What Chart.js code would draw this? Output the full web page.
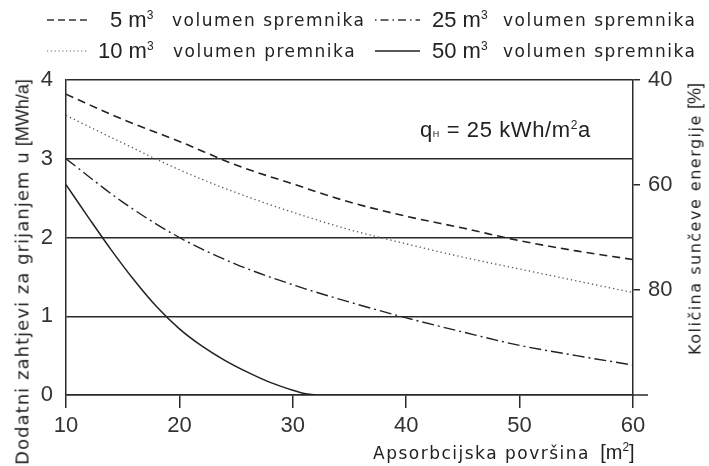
<!DOCTYPE html>
<html>
<head>
<meta charset="utf-8">
<script src="https://cdn.jsdelivr.net/npm/chart.js@4/dist/chart.umd.min.js"></script>
<style>
  body { margin: 0; background: #fff; }
  #wrap { position: relative; width: 709px; height: 466px; font-family: "DejaVu Sans", sans-serif; color: #222; }
  canvas { position: absolute; left: 0; top: 0; }
  .t { position: absolute; white-space: nowrap; line-height: 24px; }
  .big { font-family: "Liberation Sans", Arial, sans-serif; font-size: 22px; letter-spacing: 0; }
  .small { font-size: 17px; letter-spacing: 1.5px; }
  .rot { position: absolute; white-space: nowrap; line-height: 24px; transform: translate(-50%, -50%) rotate(-90deg); }
  sup { font-size: 12px; vertical-align: 8px; line-height: 0; }
</style>
</head>
<body>
<div id="wrap">
  <canvas id="c" width="709" height="466"></canvas>

  <svg class="t" style="left:47px;top:14px" width="42" height="12"><line x1="0" y1="6" x2="41" y2="6" stroke="#333" stroke-width="1.5" stroke-dasharray="7,4"/></svg>
  <div class="t big" style="left:110px;top:8px">5 m<sup>3</sup></div>
  <div class="t small" style="left:172px;top:8px">volumen spremnika</div>
  <svg class="t" style="left:375px;top:14px" width="46" height="12"><line x1="0" y1="6" x2="45" y2="6" stroke="#333" stroke-width="1.5" stroke-dasharray="1.5,4,8,4"/></svg>
  <div class="t big" style="left:432px;top:8px">25 m<sup>3</sup></div>
  <div class="t small" style="left:503px;top:8px">volumen spremnika</div>

  <svg class="t" style="left:47px;top:45px" width="42" height="12"><line x1="0" y1="6" x2="41" y2="6" stroke="#666" stroke-width="1.2" stroke-dasharray="1.2,2.6"/></svg>
  <div class="t big" style="left:98px;top:39px">10 m<sup>3</sup></div>
  <div class="t small" style="left:173px;top:39px">volumen premnika</div>
  <svg class="t" style="left:375px;top:45px" width="46" height="12"><line x1="0" y1="6" x2="45" y2="6" stroke="#222" stroke-width="1.6"/></svg>
  <div class="t big" style="left:432px;top:39px">50 m<sup>3</sup></div>
  <div class="t small" style="left:503px;top:39px">volumen spremnika</div>

  <div class="t" style="left:420px;top:118px;font-family:'Liberation Sans',Arial,sans-serif;font-size:22px;letter-spacing:0.6px">q<span style="font-size:9px">H</span> = 25 kWh/m<sup>2</sup>a</div>

  <div class="t" style="left:373px;top:440px"><span class="small">Apsorbcijska površina</span>&nbsp;&nbsp;<span class="big" style="font-size:20px">[m<sup>2</sup>]</span></div>

  <div class="rot" style="left:23px;top:272px"><span class="small" style="font-size:18px;letter-spacing:1.05px">Dodatni zahtjevi za grijanjem u</span> <span class="big" style="font-size:18px">[MWh/a]</span></div>
  <div class="rot" style="left:695px;top:219px"><span class="small" style="font-size:16px;letter-spacing:1.5px">Količina sunčeve energije</span> <span class="big" style="font-size:18px">[%]</span></div>
</div>

<script>
// absorber area [m2] and extra heating demand [MWh/a] per tank volume
const area5 = [10, 15, 20, 25, 30, 35, 40, 45, 50, 55, 60];
const demand5 = [3.82, 3.5, 3.22, 2.92, 2.68, 2.45, 2.27, 2.12, 1.96, 1.83, 1.72];

const area10 = [10, 15, 20, 25, 30, 35, 40, 45, 50, 55, 60];
const demand10 = [3.55, 3.2, 2.86, 2.57, 2.32, 2.1, 1.92, 1.75, 1.6, 1.45, 1.3];

const area25 = [10, 15, 20, 25, 30, 35, 40, 45, 50, 55, 60];
const demand25 = [3.0, 2.45, 2.0, 1.66, 1.4, 1.18, 0.98, 0.8, 0.63, 0.5, 0.38];

const area50 = [10, 12, 14, 16, 18, 20, 22, 24, 26, 28, 30, 31, 32];
const demand50 = [2.67, 2.25, 1.84, 1.46, 1.12, 0.84, 0.62, 0.44, 0.29, 0.16, 0.06, 0.02, 0.0];

const xTicks = [10, 20, 30, 40, 50, 60];
const leftTicks = [0, 1, 2, 3, 4];
const rightTicks = [40, 60, 80];

const ink = "#2a2a2a";
const tickFont = { family: "Liberation Sans", size: 22 };

function pts(xs, ys) {
  return xs.map((x, i) => ({ x: x, y: ys[i] }));
}

const line = (label, xs, ys, dash, color, width) => ({
  label: label,
  data: pts(xs, ys),
  borderColor: color,
  borderWidth: width,
  borderDash: dash,
  pointRadius: 0,
  fill: false,
  cubicInterpolationMode: "monotone",
  yAxisID: "y",
});

// extends the base line a bit past the right axis
const axisExtra = {
  id: "axisExtra",
  afterDraw(chart) {
    const { ctx, chartArea } = chart;
    ctx.save();
    ctx.strokeStyle = ink;
    ctx.lineWidth = 1.5;
    ctx.beginPath();
    ctx.moveTo(chartArea.right, chartArea.bottom);
    ctx.lineTo(chartArea.right + 15, chartArea.bottom);
    ctx.stroke();
    ctx.restore();
  },
};

new Chart(document.getElementById("c"), {
  type: "line",
  data: {
    datasets: [
      line("5 m³", area5, demand5, [8, 5], "#222", 1.6),
      line("10 m³", area10, demand10, [1.3, 3], "#555", 1.3),
      line("25 m³", area25, demand25, [12, 4, 2, 4], "#222", 1.4),
      line("50 m³", area50, demand50, [], "#222", 1.5),
    ],
  },
  options: {
    responsive: false,
    animation: false,
    layout: { padding: { top: 80, left: 0, right: 0, bottom: 0 } },
    plugins: { legend: { display: false }, tooltip: { enabled: false } },
    scales: {
      x: {
        type: "linear",
        min: 10,
        max: 60,
        afterFit(s) { s.height = 71; },
        afterBuildTicks(s) { s.ticks = xTicks.map(v => ({ value: v })); },
        grid: { drawOnChartArea: false, color: ink, lineWidth: 1.5, tickLength: 13 },
        border: { color: ink, width: 1.5 },
        ticks: { color: "#333", font: tickFont, padding: 5, maxRotation: 0 },
      },
      y: {
        position: "left",
        min: 0,
        max: 4,
        afterFit(s) { s.width = 66; },
        afterBuildTicks(s) { s.ticks = leftTicks.map(v => ({ value: v })); },
        grid: { color: ink, lineWidth: 1.5, tickLength: 0 },
        border: { color: ink, width: 1.5 },
        ticks: { color: "#333", font: tickFont, padding: 13 },
      },
      y2: {
        position: "right",
        min: 40,
        max: 100,
        reverse: true,
        afterFit(s) { s.width = 76; },
        afterBuildTicks(s) { s.ticks = rightTicks.map(v => ({ value: v })); },
        grid: { drawOnChartArea: false, color: ink, lineWidth: 1.5, tickLength: 7 },
        border: { color: ink, width: 1.5 },
        ticks: { color: "#333", font: tickFont, padding: 8 },
      },
    },
  },
  plugins: [axisExtra],
});
</script>
</body>
</html>
